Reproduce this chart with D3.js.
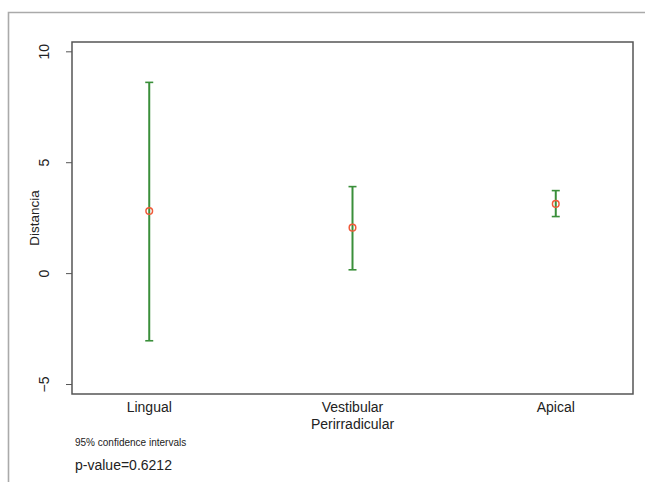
<!DOCTYPE html>
<html><head><meta charset="utf-8">
<script src="https://cdn.jsdelivr.net/npm/d3@7"></script>
<style>body{margin:0;background:#fff;}svg{display:block;font-family:"Liberation Sans",Arial,sans-serif;}</style>
</head><body>
<svg id="c" width="645" height="482"></svg>
<script>
const categories = ["Lingual", "Vestibular\nPerirradicular", "Apical"];
const means = [2.8, 2.05, 3.12];
const lower = [-3.05, 0.15, 2.55];
const upper = [8.6, 3.9, 3.72];
const yTicks = [-5, 0, 5, 10];
const noteText = "95% confidence intervals";
const pText = "p-value=0.6212";

const svg = d3.select("#c");
const L = 72, R = 633, T = 42, B = 394;

// outer frame
svg.append("path").attr("d", "M8.5,482 V12.5 H645").attr("fill","none").attr("stroke","#aaa").attr("stroke-width",1.6);

const x = d3.scalePoint().domain(categories).range([L, R]).padding(0.38);
const y = d3.scaleLinear().domain([-5.45, 10.42]).range([B, T]);

// y axis
const ya = svg.append("g").attr("transform", `translate(${L},0)`)
  .call(d3.axisLeft(y).tickValues(yTicks).tickSize(6).tickPadding(0).tickFormat(d3.format("d")));
ya.select(".domain").remove();
ya.selectAll(".tick line").attr("stroke","#555");
ya.selectAll(".tick text").attr("transform","rotate(-90)").attr("x",0).attr("y",-28).attr("dy","0.35em")
  .attr("text-anchor","middle").style("font-size","14px").attr("fill","#222").style("font-family","Liberation Sans, Arial, sans-serif");

svg.append("text").attr("transform",`translate(39,218) rotate(-90)`).attr("text-anchor","middle")
  .attr("font-size",13.5).attr("fill","#222").text("Distancia");

// box
svg.append("rect").attr("x",L).attr("y",T).attr("width",R-L).attr("height",B-T)
  .attr("fill","none").attr("stroke","#555").attr("stroke-width",1.5);

// x labels
categories.forEach((c) => {
  const lines = c.split("\n");
  const t = svg.append("text").attr("text-anchor","middle").attr("font-size",14).attr("fill","#222");
  lines.forEach((ln, j) => t.append("tspan").attr("x", x(c)).attr("y", 412 + j*17).text(ln));
});

// error bars
const g = svg.append("g");
categories.forEach((c, i) => {
  const cx = x(c);
  g.append("line").attr("x1",cx).attr("x2",cx).attr("y1",y(lower[i])).attr("y2",y(upper[i]))
    .attr("stroke","#3a8f3a").attr("stroke-width",2);
  [lower[i], upper[i]].forEach(v => {
    g.append("line").attr("x1",cx-4).attr("x2",cx+4).attr("y1",y(v)).attr("y2",y(v))
      .attr("stroke","#3a8f3a").attr("stroke-width",1.6);
  });
  g.append("circle").attr("cx",cx).attr("cy",y(means[i])).attr("r",3.3)
    .attr("fill","none").attr("stroke","#f05a3a").attr("stroke-width",1.5);
});

svg.append("text").attr("x",75).attr("y",446).attr("font-size",10).attr("fill","#222").text(noteText);
svg.append("text").attr("x",75).attr("y",470).attr("font-size",14).attr("fill","#222").text(pText);
</script>
</body></html>
